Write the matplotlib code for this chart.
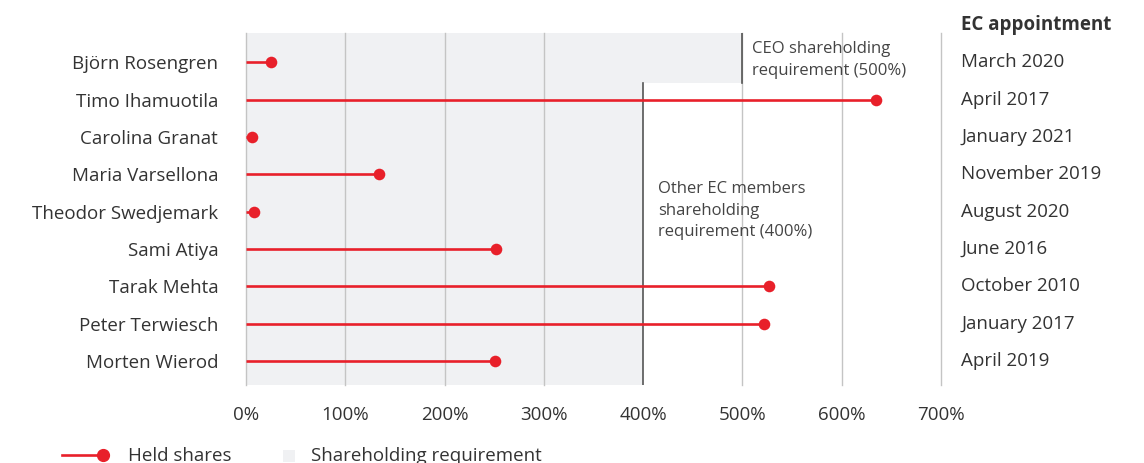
import matplotlib.pyplot as plt
from matplotlib.lines import Line2D
from matplotlib.patches import Patch, Rectangle
from matplotlib.legend_handler import HandlerBase

plt.rcParams['font.family'] = ['Open Sans', 'DejaVu Sans']

names = ['Björn Rosengren', 'Timo Ihamuotila', 'Carolina Granat', 'Maria Varsellona',
         'Theodor Swedjemark', 'Sami Atiya', 'Tarak Mehta', 'Peter Terwiesch', 'Morten Wierod']
held = [25, 635, 6, 134, 8, 252, 527, 522, 251]
appointed = ['March 2020', 'April 2017', 'January 2021', 'November 2019', 'August 2020',
             'June 2016', 'October 2010', 'January 2017', 'April 2019']
ceo_req = 500
other_req = 400
ticks = [0, 100, 200, 300, 400, 500, 600, 700]

red = '#e8202a'
shade = '#f0f1f3'
txt = '#333333'
fs = 13.5


class EndDotHandler(HandlerBase):
    # legend line with the dot sitting on its right end
    def create_artists(self, legend, orig_handle, xdescent, ydescent, width, height,
                       fontsize, trans):
        y = height / 2 - ydescent
        x0, x1 = -xdescent, width - xdescent
        line = Line2D([x0, x1], [y, y], color=orig_handle.get_color(),
                      lw=orig_handle.get_linewidth(), transform=trans)
        dot = Line2D([x1], [y], color=orig_handle.get_color(), marker='o', ls='none',
                     markersize=orig_handle.get_markersize(), transform=trans)
        return [line, dot]


class EndSquareHandler(HandlerBase):
    # small square swatch near the right end of the handle box
    def create_artists(self, legend, orig_handle, xdescent, ydescent, width, height,
                       fontsize, trans):
        size = 0.65 * fontsize
        x1 = width - xdescent
        y = height / 2 - ydescent
        sq = Rectangle((x1 - 2.6, y - size / 2 - 1), size, size,
                       facecolor=orig_handle.get_facecolor(), edgecolor='none',
                       transform=trans)
        return [sq]


fig = plt.figure(figsize=(11.44, 4.63), dpi=100)
ax = fig.add_axes([246 / 1144, 1 - 385 / 463, (941 - 246) / 1144, (385 - 33) / 463])

ys = list(range(len(names)))
top, bottom = -0.78, len(names) - 1 + 0.64
split = 0.56

# requirement zones: CEO row and the other members
ax.fill_between([0, ceo_req], top, split, color=shade, lw=0, zorder=0)
ax.fill_between([0, other_req], split, bottom, color=shade, lw=0, zorder=0)
ax.plot([ceo_req, ceo_req], [top, split], color='#555555', lw=1.2, zorder=2)
ax.plot([other_req, other_req], [split, bottom], color='#555555', lw=1.2, zorder=2)

for t in ticks:
    if t == other_req:
        continue
    ax.axvline(t, color='#c4c4c4', lw=1, zorder=1, clip_on=False)

ax.hlines(ys, 0, held, color=red, lw=1.9, zorder=3)
ax.scatter(held, ys, color=red, s=70, zorder=4, lw=0)

ax.set_xlim(0, 700)
ax.set_ylim(bottom, top)
ax.set_xticks(ticks)
ax.set_xticklabels([f'{t}%' for t in ticks], fontsize=fs, color=txt)
ax.set_yticks(ys)
ax.set_yticklabels(names, fontsize=fs, color=txt)
ax.tick_params(axis='x', length=0, pad=15)
ax.tick_params(axis='y', length=0, pad=20)
for s in ax.spines.values():
    s.set_visible(False)

ax.text(ceo_req + 10, -0.06, 'CEO shareholding\nrequirement (500%)', fontsize=12,
        color='#444444', va='center', linespacing=1.45)
ax.text(other_req + 15, 3.98, 'Other EC members\nshareholding\nrequirement (400%)', fontsize=12,
        color='#444444', va='center', linespacing=1.45)

# appointment dates column
tr = ax.get_yaxis_transform()
ax.text(1.029, -1.0, 'EC appointment', transform=tr, fontsize=fs, fontweight='bold',
        color=txt, va='center')
for y, d in zip(ys, appointed):
    ax.text(1.029, y, d, transform=tr, fontsize=fs, color=txt, va='center')

held_handle = Line2D([0], [0], color=red, lw=1.9, marker='o', markersize=8.5)
req_handle = Patch(facecolor=shade, edgecolor='none')
fig.legend([held_handle, req_handle], ['Held shares', 'Shareholding requirement'],
           loc='lower left', bbox_to_anchor=(45 / 1144, -19 / 463), ncol=2, frameon=False,
           fontsize=fs, handlelength=2.2, handletextpad=1.3, columnspacing=0.75,
           labelcolor=txt,
           handler_map={held_handle: EndDotHandler(), req_handle: EndSquareHandler()})

fig.savefig('out.png', dpi=100)
